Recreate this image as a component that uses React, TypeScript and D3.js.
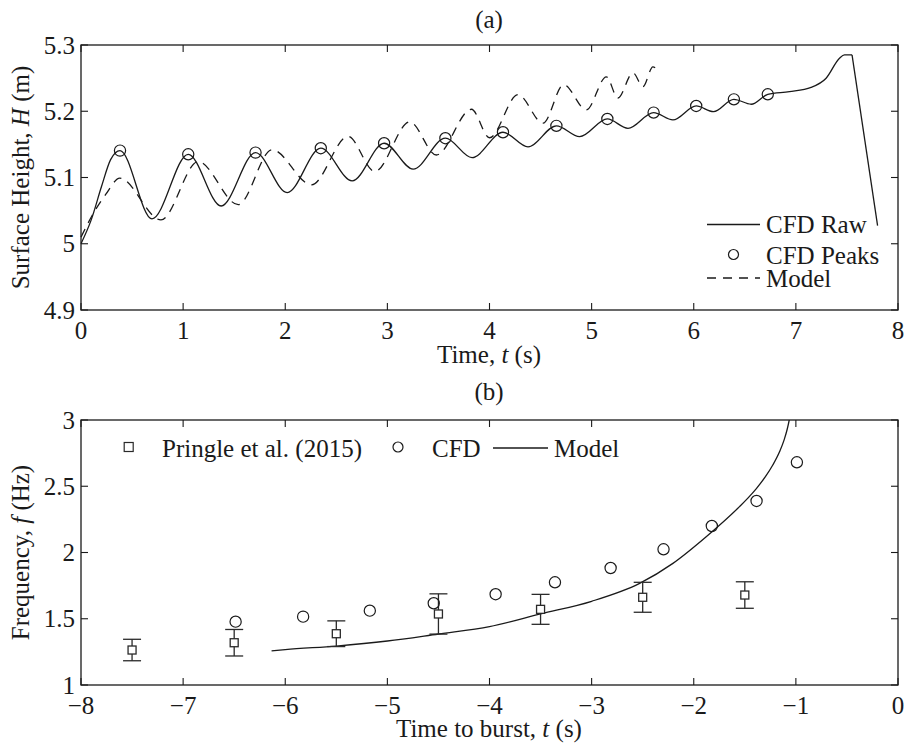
import React from 'react';
import * as d3 from 'd3';

// ---------- (a) surface height time series ----------
const rawT = [0, 0.1, 0.2, 0.29, 0.382, 0.695, 1.05, 1.372, 1.709, 2.019, 2.348, 2.655, 2.968, 3.252, 3.568, 3.829, 4.132, 4.377, 4.655, 4.883, 5.154, 5.356, 5.607, 5.796, 6.024, 6.194, 6.393, 6.563, 6.725, 6.937, 7.149, 7.296, 7.427, 7.476, 7.55];
const rawH = [5.0, 5.036, 5.086, 5.127, 5.1406, 5.0376, 5.135, 5.057, 5.1376, 5.0772, 5.1442, 5.0949, 5.1517, 5.1125, 5.1593, 5.13, 5.1683, 5.1462, 5.178, 5.1617, 5.1884, 5.1743, 5.198, 5.1869, 5.208, 5.1994, 5.218, 5.2106, 5.2256, 5.2296, 5.236, 5.2498, 5.28, 5.285, 5.285];
// final collapse of the surface after the burst
const dropT = [7.55, 7.8];
const dropH = [5.285, 5.0275];

const peakT = [0.382, 1.05, 1.709, 2.348, 2.968, 3.568, 4.132, 4.655, 5.154, 5.607, 6.024, 6.393, 6.725];
const peakH = [5.1406, 5.135, 5.1376, 5.1442, 5.1517, 5.1593, 5.1683, 5.178, 5.1884, 5.198, 5.208, 5.218, 5.2256];

const modelT = [0, 0.14, 0.24, 0.38, 0.783, 1.148, 1.54, 1.87, 2.257, 2.615, 2.877, 3.219, 3.48, 3.823, 4.0, 4.279, 4.524, 4.726, 4.948, 5.144, 5.257, 5.405, 5.502, 5.6, 5.666];
const modelH = [5.01, 5.051, 5.074, 5.099, 5.036, 5.124, 5.059, 5.142, 5.089, 5.162, 5.109, 5.184, 5.134, 5.203, 5.16, 5.225, 5.182, 5.24, 5.202, 5.252, 5.22, 5.258, 5.237, 5.267, 5.258];

const topXTicks = [0, 1, 2, 3, 4, 5, 6, 7, 8];
const topXLabels = ['0', '1', '2', '3', '4', '5', '6', '7', '8'];
const topYTicks = [4.9, 5.0, 5.1, 5.2, 5.3];
const topYLabels = ['4.9', '5', '5.1', '5.2', '5.3'];

// ---------- (b) frequency vs time to burst ----------
const pringleT = [-7.5, -6.5, -5.5, -4.5, -3.5, -2.5, -1.5];
const pringleF = [1.264, 1.319, 1.387, 1.536, 1.571, 1.662, 1.679];
const pringleErr = [0.081, 0.1, 0.097, 0.152, 0.113, 0.113, 0.1];

const cfdT = [-6.486, -5.825, -5.172, -4.546, -3.94, -3.359, -2.814, -2.296, -1.823, -1.385, -0.99];
const cfdF = [1.478, 1.516, 1.561, 1.617, 1.685, 1.775, 1.883, 2.024, 2.2, 2.389, 2.681];

const fitT = [-6.134, -6.0, -5.5, -5.0, -4.5, -4.0, -3.5, -3.0, -2.53, -2.204, -1.878, -1.552, -1.47, -1.389, -1.3, -1.226, -1.16, -1.115, -1.085, -1.065, -1.05];
const fitF = [1.257, 1.267, 1.294, 1.332, 1.385, 1.44, 1.536, 1.632, 1.767, 1.918, 2.119, 2.346, 2.41, 2.48, 2.57, 2.66, 2.76, 2.85, 2.93, 3.0, 3.06];

const botXTicks = [-8, -7, -6, -5, -4, -3, -2, -1, 0];
const botXLabels = ['\u22128', '\u22127', '\u22126', '\u22125', '\u22124', '\u22123', '\u22122', '\u22121', '0'];
const botYTicks = [1, 1.5, 2, 2.5, 3];
const botYLabels = ['1', '1.5', '2', '2.5', '3'];

const INK = '#1a1a1a';
const FONT = "'Liberation Serif', 'Times New Roman', Times, serif";
const FS = 25;

type Frame = {
  x: d3.ScaleLinear<number, number>;
  y: d3.ScaleLinear<number, number>;
  xTicks: number[];
  xLabels: string[];
  yTicks: number[];
  yLabels: string[];
};

function Axes({ x, y, xTicks, xLabels, yTicks, yLabels }: Frame) {
  const [x0, x1] = x.range();
  const [yb, yt] = y.range();
  const tl = 7;
  return (
    <g>
      <rect x={x0} y={yt} width={x1 - x0} height={yb - yt} fill="none" stroke={INK} strokeWidth={1.3} />
      {xTicks.map((t, i) => (
        <g key={'x' + i}>
          <line x1={x(t)} x2={x(t)} y1={yb} y2={yb - tl} stroke={INK} strokeWidth={1.1} />
          <line x1={x(t)} x2={x(t)} y1={yt} y2={yt + tl} stroke={INK} strokeWidth={1.1} />
          <text x={x(t)} y={yb + 29} textAnchor="middle" fontSize={FS}>{xLabels[i]}</text>
        </g>
      ))}
      {yTicks.map((v, i) => (
        <g key={'y' + i}>
          <line x1={x0} x2={x0 + tl} y1={y(v)} y2={y(v)} stroke={INK} strokeWidth={1.1} />
          <line x1={x1} x2={x1 - tl} y1={y(v)} y2={y(v)} stroke={INK} strokeWidth={1.1} />
          <text x={x0 - 6} y={y(v)} dy="0.34em" textAnchor="end" fontSize={FS}>{yLabels[i]}</text>
        </g>
      ))}
    </g>
  );
}

export default function App() {
  // panel (a)
  const xA = d3.scaleLinear().domain([0, 8]).range([81, 898]);
  const yA = d3.scaleLinear().domain([4.9, 5.3]).range([310, 45]);
  // panel (b)
  const xB = d3.scaleLinear().domain([-8, 0]).range([81, 898]);
  const yB = d3.scaleLinear().domain([1, 3]).range([685, 420]);

  const smooth = (sx: d3.ScaleLinear<number, number>, sy: d3.ScaleLinear<number, number>) =>
    d3.line<[number, number]>().x(d => sx(d[0])).y(d => sy(d[1])).curve(d3.curveMonotoneX);
  const straight = (sx: d3.ScaleLinear<number, number>, sy: d3.ScaleLinear<number, number>) =>
    d3.line<[number, number]>().x(d => sx(d[0])).y(d => sy(d[1]));

  const rawPath = smooth(xA, yA)(rawT.map((t, i) => [t, rawH[i]] as [number, number])) || '';
  const dropPath = straight(xA, yA)(dropT.map((t, i) => [t, dropH[i]] as [number, number])) || '';
  const modelPath = smooth(xA, yA)(modelT.map((t, i) => [t, modelH[i]] as [number, number])) || '';
  const fitPath = smooth(xB, yB)(fitT.map((t, i) => [t, fitF[i]] as [number, number])) || '';

  const capW = 9;
  const sq = 8;

  return (
    <div style={{ position: 'absolute', left: 0, top: 0, background: '#fff' }}>
      <svg width={905} height={745} viewBox="0 0 905 745" fontFamily={FONT} fill={INK} style={{ display: 'block' }}>
        <rect x={0} y={0} width={905} height={745} fill="#fff" />
        <defs>
          <clipPath id="clipB">
            <rect x={81} y={420} width={817} height={265} />
          </clipPath>
        </defs>

        {/* ---------------- (a) ---------------- */}
        <text x={489} y={28} textAnchor="middle" fontSize={FS}>(a)</text>
        <Axes x={xA} y={yA} xTicks={topXTicks} xLabels={topXLabels} yTicks={topYTicks} yLabels={topYLabels} />
        <path d={modelPath} fill="none" stroke={INK} strokeWidth={1.3} strokeDasharray="9,7" />
        <path d={rawPath} fill="none" stroke={INK} strokeWidth={1.3} />
        <path d={dropPath} fill="none" stroke={INK} strokeWidth={1.3} />
        {peakT.map((t, i) => (
          <circle key={'pk' + i} cx={xA(t)} cy={yA(peakH[i])} r={5.6} fill="none" stroke={INK} strokeWidth={1.2} />
        ))}
        <text x={489} y={363} textAnchor="middle" fontSize={FS}>
          Time, <tspan fontStyle="italic">t</tspan> (s)
        </text>
        <text transform="translate(29,177.5) rotate(-90)" textAnchor="middle" fontSize={FS}>
          Surface Height, <tspan fontStyle="italic">H</tspan> (m)
        </text>
        {/* legend (a) */}
        <g>
          <line x1={707} x2={760} y1={224.5} y2={224.5} stroke={INK} strokeWidth={1.3} />
          <text x={766} y={233} fontSize={FS}>CFD Raw</text>
          <circle cx={733.5} cy={254.5} r={5} fill="none" stroke={INK} strokeWidth={1.2} />
          <text x={766} y={263.5} fontSize={FS}>CFD Peaks</text>
          <line x1={707} x2={760} y1={278} y2={278} stroke={INK} strokeWidth={1.3} strokeDasharray="9,7" />
          <text x={766} y={286.5} fontSize={FS}>Model</text>
        </g>

        {/* ---------------- (b) ---------------- */}
        <text x={489} y={400} textAnchor="middle" fontSize={FS}>(b)</text>
        <Axes x={xB} y={yB} xTicks={botXTicks} xLabels={botXLabels} yTicks={botYTicks} yLabels={botYLabels} />
        <path d={fitPath} fill="none" stroke={INK} strokeWidth={1.3} clipPath="url(#clipB)" />
        {pringleT.map((t, i) => {
          const cx = xB(t);
          const lo = yB(pringleF[i] - pringleErr[i]);
          const hi = yB(pringleF[i] + pringleErr[i]);
          return (
            <g key={'pr' + i} stroke="#2a2a2a" strokeWidth={1.3} fill="none">
              <line x1={cx} x2={cx} y1={lo} y2={hi} />
              <line x1={cx - capW} x2={cx + capW} y1={lo} y2={lo} />
              <line x1={cx - capW} x2={cx + capW} y1={hi} y2={hi} />
              <rect x={cx - sq / 2} y={yB(pringleF[i]) - sq / 2} width={sq} height={sq} fill="#fff" />
            </g>
          );
        })}
        {cfdT.map((t, i) => (
          <circle key={'cf' + i} cx={xB(t)} cy={yB(cfdF[i])} r={5.6} fill="none" stroke={INK} strokeWidth={1.2} />
        ))}
        <text x={489} y={737} textAnchor="middle" fontSize={FS}>
          Time to burst, <tspan fontStyle="italic">t</tspan> (s)
        </text>
        <text transform="translate(29,552.5) rotate(-90)" textAnchor="middle" fontSize={FS}>
          Frequency, <tspan fontStyle="italic">f</tspan> (Hz)
        </text>
        {/* legend (b) */}
        <g>
          <rect x={128.7 - 4.5} y={447 - 4.5} width={9} height={9} fill="none" stroke="#2a2a2a" strokeWidth={1.2} />
          <text x={162} y={457} fontSize={FS}>Pringle et al. (2015)</text>
          <circle cx={398} cy={447} r={5} fill="none" stroke={INK} strokeWidth={1.2} />
          <text x={432} y={457} fontSize={FS}>CFD</text>
          <line x1={493} x2={548} y1={448} y2={448} stroke={INK} strokeWidth={1.3} />
          <text x={554} y={457} fontSize={FS}>Model</text>
        </g>
      </svg>
    </div>
  );
}
